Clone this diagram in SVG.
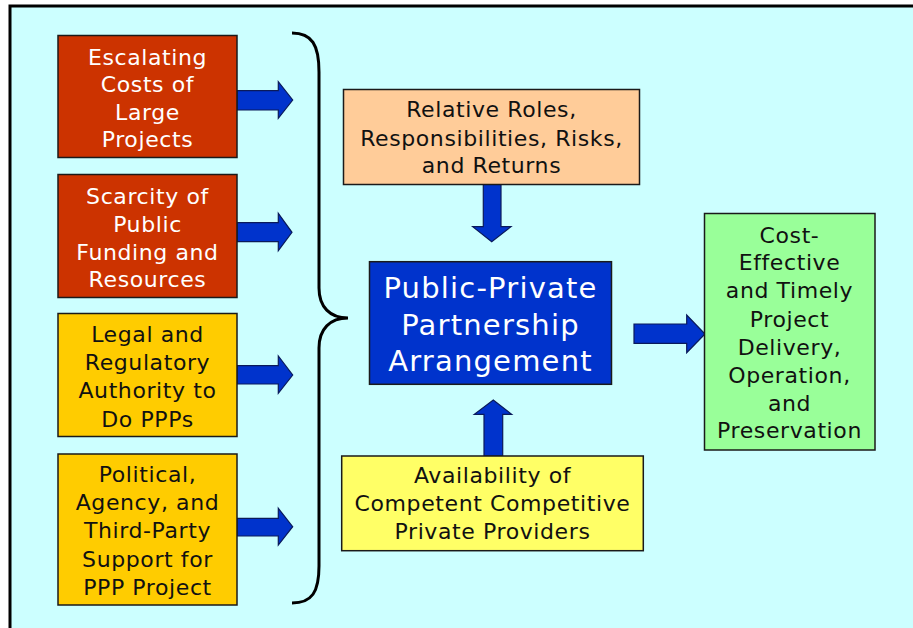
<svg xmlns="http://www.w3.org/2000/svg" width="913" height="628" viewBox="0 0 913 628">
<style>
.box{stroke:#1a1a1a;stroke-width:1.5}
.red{fill:#CC3300}
.gold{fill:#FFCC00}
.peach{fill:#FFCC99}
.blue{fill:#0033CC}
.yel{fill:#FFFF66}
.grn{fill:#99FF99}
.arr{fill:#0033CC;stroke:#0a1a5a;stroke-width:1.2;stroke-linejoin:miter}
text{font-family:"DejaVu Sans","Liberation Sans",sans-serif;font-size:22px;letter-spacing:0.6px;text-anchor:middle;fill:#111}
.w{fill:#ffffff}
.big{font-size:29px;letter-spacing:1.2px}
</style>
<rect x="10" y="6" width="930" height="650" fill="#CCFFFF" stroke="#000" stroke-width="3"/>

<g id="connectors">
<polygon class="arr" points="237,90.7 278.3,90.7 278.3,81.7 292.7,100 278.3,118.3 278.3,110 237,110"/>
<polygon class="arr" points="237,222.7 278.3,222.7 278.3,213.3 292,232.3 278.3,250.7 278.3,241.7 237,241.7"/>
<polygon class="arr" points="237,365.7 278.3,365.7 278.3,356 292.7,375 278.3,393.3 278.3,384 237,384"/>
<polygon class="arr" points="237,518.3 278.3,518.3 278.3,508.3 292.7,526.7 278.3,545 278.3,536 237,536"/>
<polygon class="arr" points="483.3,184 501,184 501,226.7 511,226.7 491.7,241.7 472.7,226.7 483.3,226.7"/>
<polygon class="arr" points="484,456 502.7,456 502.7,414.3 511.7,414.3 493.3,400 474.3,414.3 484,414.3"/>
<polygon class="arr" points="634,324 686.7,324 686.7,315 705,334 686.7,352.7 686.7,343.3 634,343.3"/>
<path d="M292,33 C312,33 319,45 319,72 L319,288 C319,307 330,318 348,318 C330,318 319,329 319,348 L319,566 C319,592 312,603 292,603" fill="none" stroke="#000" stroke-width="3"/>
</g>

<g id="escalating">
<rect class="box red" x="58" y="35.5" width="179" height="122"/>
<text class="w" x="147.5" y="64.5">Escalating</text>
<text class="w" x="147.5" y="92">Costs of</text>
<text class="w" x="147.5" y="119.5">Large</text>
<text class="w" x="147.5" y="147">Projects</text>
</g>

<g id="scarcity">
<rect class="box red" x="58" y="174.5" width="179" height="123"/>
<text class="w" x="147.5" y="204">Scarcity of</text>
<text class="w" x="147.5" y="231.5">Public</text>
<text class="w" x="147.5" y="259.5">Funding and</text>
<text class="w" x="147.5" y="287.3">Resources</text>
</g>

<g id="legal">
<rect class="box gold" x="58" y="313.5" width="179" height="123"/>
<text x="147.5" y="342.3">Legal and</text>
<text x="147.5" y="370">Regulatory</text>
<text x="147.5" y="398">Authority to</text>
<text x="147.5" y="426.5">Do PPPs</text>
</g>

<g id="political">
<rect class="box gold" x="58" y="454" width="179" height="151"/>
<text x="147.5" y="481.7">Political,</text>
<text x="147.5" y="509.5">Agency, and</text>
<text x="147.5" y="538">Third-Party</text>
<text x="147.5" y="566.5">Support for</text>
<text x="147.5" y="594.5">PPP Project</text>
</g>

<g id="roles">
<rect class="box peach" x="343.5" y="89.5" width="296" height="95"/>
<text x="491.5" y="116.7">Relative Roles,</text>
<text x="491.5" y="145.5">Responsibilities, Risks,</text>
<text x="491.5" y="173.3">and Returns</text>
</g>

<g id="ppp">
<rect class="box blue" x="369.5" y="261.7" width="242" height="122.6"/>
<text class="w big" x="490.5" y="298">Public-Private</text>
<text class="w big" x="490.5" y="334.5">Partnership</text>
<text class="w big" x="490.5" y="371">Arrangement</text>
</g>

<g id="availability">
<rect class="box yel" x="341.7" y="456" width="301.6" height="94.7"/>
<text x="492.5" y="482.7">Availability of</text>
<text x="492.5" y="510.7">Competent Competitive</text>
<text x="492.5" y="539.3">Private Providers</text>
</g>

<g id="outcome">
<rect class="box grn" x="704.5" y="213.5" width="170.5" height="236.5"/>
<text x="789.5" y="242.7">Cost-</text>
<text x="789.5" y="270.3">Effective</text>
<text x="789.5" y="298.3">and Timely</text>
<text x="789.5" y="326.7">Project</text>
<text x="789.5" y="355">Delivery,</text>
<text x="789.5" y="382.7">Operation,</text>
<text x="789.5" y="410.7">and</text>
<text x="789.5" y="438.3">Preservation</text>
</g>
</svg>
